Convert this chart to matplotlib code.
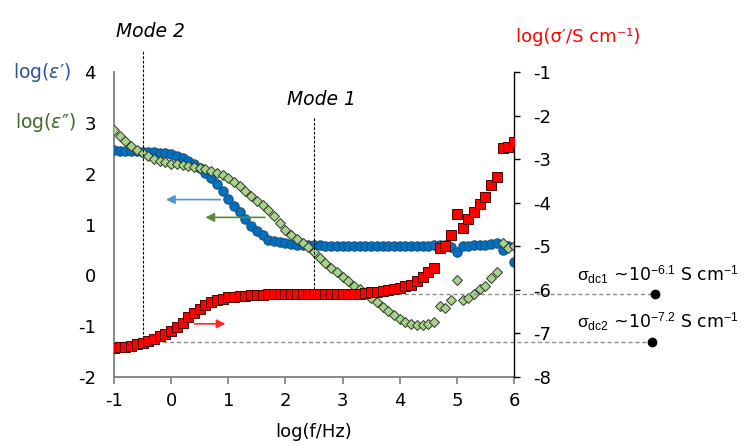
import numpy as np
import matplotlib
matplotlib.use('Agg')
import matplotlib.pyplot as plt

plt.rcParams['font.family'] = ['DejaVu Sans']
plt.rcParams['axes.unicode_minus'] = False
plt.rcParams['mathtext.fontset'] = 'custom'
plt.rcParams['mathtext.rm'] = 'Liberation Sans'
plt.rcParams['mathtext.it'] = 'Liberation Sans:italic'

# frequency grid, log10(f / Hz), ten points per decade
log_f = np.round(np.arange(-10, 61) / 10.0, 1)

# log(eps') -- left axis
eps_real = [2.46, 2.45, 2.45, 2.44, 2.44, 2.43, 2.43, 2.42, 2.41, 2.40,
            2.38, 2.35, 2.31, 2.25, 2.19, 2.11, 2.02, 1.91, 1.80, 1.65,
            1.50, 1.37, 1.24, 1.10, 0.98, 0.88, 0.79, 0.70, 0.67, 0.65,
            0.63, 0.61, 0.60, 0.59, 0.59, 0.59, 0.59, 0.58, 0.58, 0.58,
            0.58, 0.58, 0.58, 0.58, 0.58, 0.58, 0.58, 0.58, 0.58, 0.58,
            0.58, 0.58, 0.58, 0.58, 0.58, 0.58, 0.59, 0.59, 0.59, 0.55,
            0.45, 0.57, 0.58, 0.59, 0.60, 0.60, 0.61, 0.63, 0.49, 0.57,
            0.26]

# log(eps'') -- left axis
eps_imag = [2.85, 2.74, 2.64, 2.55, 2.47, 2.40, 2.34, 2.29, 2.25, 2.22,
            2.20, 2.19, 2.18, 2.16, 2.14, 2.12, 2.10, 2.06, 2.02, 1.97,
            1.91, 1.83, 1.75, 1.66, 1.56, 1.46, 1.38, 1.29, 1.16, 1.03,
            0.90, 0.80, 0.72, 0.64, 0.56, 0.46, 0.35, 0.25, 0.15, 0.06,
            -0.03, -0.12, -0.20, -0.27, -0.36, -0.44, -0.53, -0.62, -0.70, -0.78,
            -0.85, -0.91, -0.95, -0.97, -0.97, -0.95, -0.92, -0.60, -0.64, -0.48,
            -0.10, -0.48, -0.44, -0.36, -0.26, -0.20, -0.05, 0.07, 0.63, 0.53,
            0.57]

# log(sigma' / S cm-1) -- right axis
sigma = [-7.33, -7.32, -7.30, -7.28, -7.25, -7.22, -7.17, -7.12, -7.07, -7.01,
         -6.94, -6.85, -6.75, -6.62, -6.52, -6.43, -6.35, -6.29, -6.24, -6.20,
         -6.17, -6.16, -6.14, -6.13, -6.12, -6.11, -6.11, -6.10, -6.10, -6.10,
         -6.10, -6.10, -6.10, -6.10, -6.10, -6.10, -6.10, -6.10, -6.10, -6.10,
         -6.10, -6.10, -6.10, -6.10, -6.08, -6.06, -6.04, -6.02, -6.00, -5.98,
         -5.95, -5.92, -5.88, -5.80, -5.70, -5.60, -5.49, -5.05, -5.00, -4.73,
         -4.25, -4.59, -4.38, -4.22, -4.04, -3.86, -3.60, -3.42, -2.75, -2.73,
         -2.61]

mode_pos = [-0.5, 2.5]
mode_names = ['Mode 2', 'Mode 1']
sigma_dc = [-6.1, -7.2]
sigma_dc_names = ['dc1', 'dc2']

fig = plt.figure(figsize=(7.46, 4.46), dpi=100)
ax = fig.add_axes([114 / 746, 69 / 446, 400 / 746, 305 / 446])
ax2 = ax.twinx()

ax.plot(log_f, eps_real, 'o', ms=6.8, mfc='#0070c0', mec='#1f4e79', mew=0.7, zorder=3)
ax.plot(log_f, eps_imag, 'D', ms=5.6, mfc='#a9d18e', mec='#2f3a26', mew=0.7, zorder=4)
ax2.plot(log_f, sigma, 's', ms=6.6, mfc='#ff0000', mec='#4a0000', mew=0.7, zorder=5)

ax.set_xlim(-1, 6)
ax.set_ylim(-2, 4)
ax2.set_ylim(-8, -1)
ax.set_xticks(range(-1, 7))
ax.set_yticks(range(-2, 5))
ax2.set_yticks(range(-8, 0))

for s in ['top', 'right']:
    ax.spines[s].set_visible(False)
for s in ['top', 'left', 'bottom']:
    ax2.spines[s].set_visible(False)
ax.spines['left'].set_color('#7f7f7f')
ax.spines['bottom'].set_color('#7f7f7f')
ax.spines['left'].set_linewidth(1.3)
ax.spines['bottom'].set_linewidth(1.3)
ax2.spines['right'].set_linewidth(1.0)

ax.tick_params(axis='x', direction='out', length=5, width=1.2, color='#7f7f7f',
               labelsize=13, pad=6)
ax.tick_params(axis='y', length=0, labelsize=13, pad=13)
ax2.tick_params(axis='y', direction='out', length=4, width=1.0, labelsize=13, pad=10)

ax.set_xlabel('log(f/Hz)', fontsize=13, labelpad=9)

# relaxation modes
for x, name in zip(mode_pos, mode_names):
    top = -0.49 if name == 'Mode 2' else -2.06
    bottom = sigma[int(round((x + 1) * 10))]
    ax2.plot([x, x], [bottom, top], color='black', lw=0.8, ls=(0, (2.5, 1.5)),
             clip_on=False, zorder=1)
    ax2.text(x + 0.13, top + 0.2, name, fontsize=13.5, style='italic',
             ha='center', va='bottom')

# dc conductivity levels
starts = [2.5, -1.0]
ends = [8.47, 8.42]
for y, x0, x1, name in zip(sigma_dc, starts, ends, sigma_dc_names):
    ax2.plot([x0, x1], [y, y], color='#8c8c8c', lw=1.0, ls=(0, (3, 2)),
             clip_on=False, zorder=1)
    ax2.plot([x1], [y], 'o', ms=6, color='black', clip_on=False)
    ax2.text(7.1, y + 0.2,
             r'$\mathrm{\sigma}_{\mathrm{%s}}$ ~10$^{%s}$ S cm$^{-1}$' % (name, y),
             fontsize=12.5, ha='left', va='bottom', math_fontfamily='custom')

# arrows pointing to the relevant axis
ax.annotate('', xy=(-0.14, 1.49), xytext=(0.91, 1.49),
            arrowprops=dict(arrowstyle='-|>', color='#4f95d6', lw=1.2, mutation_scale=13))
ax.annotate('', xy=(0.55, 1.14), xytext=(1.69, 1.14),
            arrowprops=dict(arrowstyle='-|>', color='#5b8a3a', lw=1.2, mutation_scale=13))
ax2.annotate('', xy=(1.0, -6.78), xytext=(0.36, -6.78),
             arrowprops=dict(arrowstyle='-|>', color='#ff2a2a', lw=1.2, mutation_scale=13))

# axis titles
fig.text(71 / 746, 1 - 72 / 446, r"log($\varepsilon$′)", color='#2f5597', fontsize=13.5,
         ha='right', va='center', math_fontfamily='dejavusans')
fig.text(76 / 746, 1 - 122 / 446, r"log($\varepsilon$″)", color='#43682b', fontsize=13.5,
         ha='right', va='center', math_fontfamily='dejavusans')
fig.text(578 / 746, 1 - 37 / 446, 'log(σ′/S cm⁻¹)', color='#ff0000', fontsize=13,
         ha='center', va='center')

fig.savefig('out.png', dpi=100)
